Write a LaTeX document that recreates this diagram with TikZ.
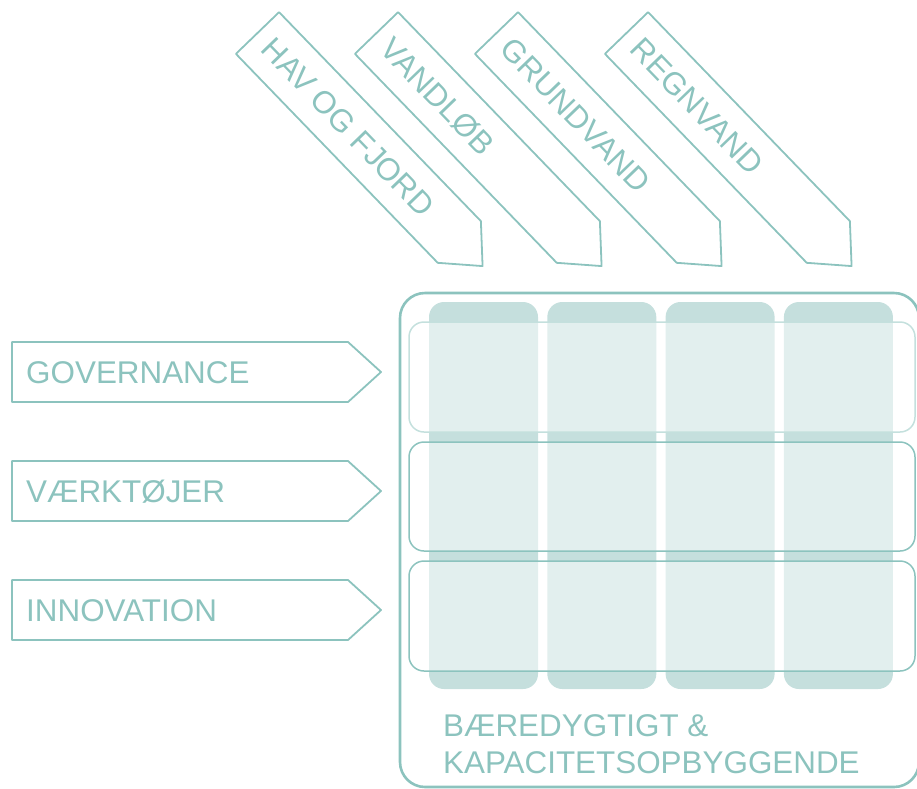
\documentclass[tikz,border=0pt]{standalone}
\usepackage{fontspec}
\setmainfont{Liberation Sans}
\definecolor{tealline}{RGB}{140,195,190}
\definecolor{colfill}{RGB}{197,223,221}
\definecolor{rowlight}{RGB}{196,224,221}
\begin{document}
\begin{tikzpicture}[x=1pt,y=-1pt,line join=round,
  arrowshape/.style={draw=tealline,line width=1.8pt},
  lbl/.style={text=tealline,inner sep=0pt,font=\fontsize{31.4}{37}\selectfont},
  colbox/.style={fill=colfill,rounded corners=15pt},
  rowbox/.style={fill=white,fill opacity=0.5,draw=tealline,line width=1.5pt,rounded corners=15pt}]
\useasboundingbox (0,0) rectangle (917,788);
% outer frame
\draw[tealline,line width=2.6pt,rounded corners=25pt] (400,293) rectangle (919,787);
% columns
\foreach \i in {0,1,2,3}
  \fill[colbox] ({429+118.3*\i},302) rectangle ++(109,387);
% rows
\filldraw[rowbox,draw=rowlight] (409,322) rectangle (915,432);
\filldraw[rowbox] (409,442) rectangle (915,551);
\filldraw[rowbox] (409,561) rectangle (915,671);
% bottom text
\node[lbl,anchor=base west,align=left] (bottom) at (443,773) {BÆREDYGTIGT \&\\KAPACITETSOPBYGGENDE};
% left arrows
\foreach \c/\t/\n in {372/GOVERNANCE/gov,491/VÆRKTØJER/vaerk,610/INNOVATION/innov}{
  \draw[arrowshape] (12,\c-30) -- (348,\c-30) -- (381,\c) -- (348,\c+30) -- (12,\c+30) -- cycle;
  \node[lbl,anchor=base west] (\n) at (26,\c+11) {\t};
}
% top arrows
\foreach \mx/\t/\n in {257.5/HAV OG FJORD/hav,376.5/VANDLØB/vandlob,496.5/GRUNDVAND/grund,626.5/REGNVAND/regn}{
  \begin{scope}[shift={(\mx,33)},rotate=-46]
    \draw[arrowshape] (0,-30) -- (290.5,-30) -- (324,0) -- (290.5,30) -- (0,30) -- cycle;
    \node[lbl,anchor=base west,rotate=-46] (\n) at (14,11) {\t};
  \end{scope}
}
\end{tikzpicture}
\end{document}
